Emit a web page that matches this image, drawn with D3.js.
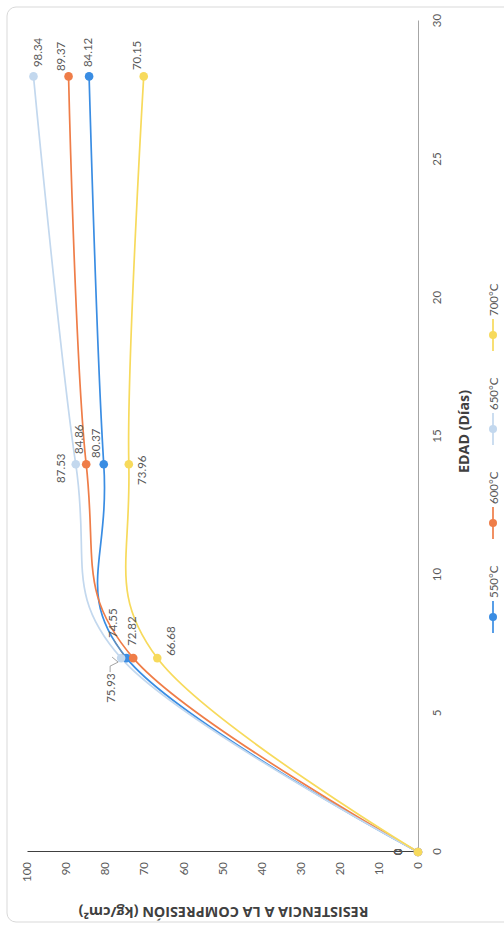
<!DOCTYPE html>
<html><head><meta charset="utf-8">
<script src="https://cdn.jsdelivr.net/npm/d3@7"></script>
<style>html,body{margin:0;padding:0;background:#fff;} svg{display:block;}</style>
</head><body>
<script>
// ---- data ----
const days = [0, 7, 14, 28];
const s550 = [0, 74.55, 80.37, 84.12];
const s600 = [0, 72.82, 84.86, 89.37];
const s650 = [0, 75.93, 87.53, 98.34];
const s700 = [0, 66.68, 73.96, 70.15];
const seriesNames = ["550°C", "600°C", "650°C", "700°C"];
const xTickValues = [0, 5, 10, 15, 20, 25, 30];
const yTickValues = [0, 10, 20, 30, 40, 50, 60, 70, 80, 90, 100];
const xTitle = "EDAD (Días)";
const yTitle = "RESISTENCIA A LA COMPRESIÓN (kg/cm²)";

// ---- styles / layout ----
const colors = ["#3a8de3", "#ef7d48", "#c3d8ee", "#f7da5c"];
const font = "Lato, 'Open Sans', sans-serif";
const titleFont = "'Open Sans', Lato, sans-serif";
// label offsets (in the unrotated chart frame), per series per point
const labelOffsets = [
  [[0,-21],[35,-14],[21,-8],[24,-2]],
  [[0,-21],[27,-2],[25,-8],[20,-8]],
  [[0,-21],[-30,-11],[-4,-15],[24,4]],
  [[0,-21],[17,13],[-6,13],[21,-7]]
];

const seriesValues = [s550, s600, s650, s700];
const series = seriesNames.map((n, i) => ({
  name: n, color: colors[i],
  pts: days.map((d, j) => ({x: d, y: seriesValues[i][j], off: labelOffsets[i][j]}))
}));

const svg = d3.select("body").append("svg").attr("width", 504).attr("height", 925);
// whole chart is rotated -90deg: chart frame is 925 wide x 504 tall
const g = svg.append("g").attr("transform", "translate(0,925) rotate(-90)");

// border
g.append("rect").attr("x", 3).attr("y", 7).attr("width", 915).attr("height", 520)
  .attr("rx", 9).attr("fill", "#fff").attr("stroke", "#d9d9d9").attr("stroke-width", 1);

const x = d3.scaleLinear().domain([0, 30]).range([73, 904]);
const y = d3.scaleLinear().domain([0, 100]).range([418, 27]);

// x axis (days)
const xa = g.append("g").attr("transform", `translate(0,${y(0)})`)
  .call(d3.axisBottom(x).tickValues(xTickValues).tickSize(0).tickSizeOuter(0).tickPadding(15));
xa.select(".domain").attr("stroke", "#a6a6a6").attr("stroke-width", 1);
xa.selectAll("text").attr("font-family", font).attr("font-size", 11.5).attr("fill", "#595959");

// y axis (values)
const ya = g.append("g").attr("transform", `translate(${x(0)},0)`)
  .call(d3.axisLeft(y).tickValues(yTickValues).tickSize(0).tickSizeOuter(0).tickPadding(10));
ya.select(".domain").attr("stroke", "#404040").attr("stroke-width", 1.2);
ya.selectAll("text").attr("font-family", font).attr("font-size", 11.5).attr("fill", "#595959");

// titles (font size fitted to the reference's text extent)
function fit(sel, target) {
  const len = sel.node().getComputedTextLength();
  const fs = +sel.attr("font-size");
  if (len > 0) sel.attr("font-size", (fs * target / len).toFixed(2));
}
const yt = g.append("text").attr("transform", `translate(13,${(y(0)+y(100))/2 + 1}) rotate(-90)`)
  .attr("text-anchor", "middle").attr("dominant-baseline", "central")
  .attr("font-family", titleFont).attr("font-size", 13).attr("font-weight", "bold").attr("fill", "#404040")
  .text(yTitle);
fit(yt, 290);
const xt = g.append("text").attr("x", (x(0)+x(30))/2 + 5).attr("y", 463)
  .attr("text-anchor", "middle").attr("dominant-baseline", "central")
  .attr("font-family", titleFont).attr("font-size", 14).attr("font-weight", "bold").attr("fill", "#404040")
  .text(xTitle);
fit(xt, 83);

// lines
const line = d3.line().x(d => x(d.x)).y(d => y(d.y)).curve(d3.curveCardinal.tension(0));
series.forEach(s => {
  g.append("path").datum(s.pts).attr("d", line).attr("fill", "none")
    .attr("stroke", s.color).attr("stroke-width", 1.7);
});
series.forEach(s => {
  g.selectAll(null).data(s.pts).enter().append("circle")
    .attr("cx", d => x(d.x)).attr("cy", d => y(d.y)).attr("r", 4.3).attr("fill", s.color);
});

// leader lines for crowded labels at day 7
const p550 = series[0].pts[1], p650 = series[2].pts[1];
g.append("polyline").attr("points", [[x(p550.x)+19, y(p550.y)-13],[x(p550.x)+3, y(p550.y)-3]].join(" "))
  .attr("fill", "none").attr("stroke", "#8c8c8c").attr("stroke-width", 0.8);
g.append("polyline").attr("points", [[x(p650.x)-14, y(p650.y)-11],[x(p650.x)-8, y(p650.y)-11],[x(p650.x)-4, y(p650.y)-3],[x(p650.x)+1, y(p650.y)-9]].join(" "))
  .attr("fill", "none").attr("stroke", "#8c8c8c").attr("stroke-width", 0.8);

// data labels
series.forEach(s => {
  g.selectAll(null).data(s.pts).enter().append("text")
    .attr("x", d => x(d.x) + d.off[0]).attr("y", d => y(d.y) + d.off[1])
    .attr("text-anchor", "middle").attr("dominant-baseline", "central")
    .attr("font-family", font).attr("font-size", 11.5).attr("fill", "#595959")
    .text(d => d.y === 0 ? "0" : d3.format(".2f")(d.y));
});

// legend
const legendX0 = 308, legendStep = 94, legendY = 493;
series.forEach((s, i) => {
  const cx = legendX0 + i * legendStep;
  g.append("line").attr("x1", cx - 16).attr("x2", cx + 16).attr("y1", legendY).attr("y2", legendY)
    .attr("stroke", s.color).attr("stroke-width", 1.7);
  g.append("circle").attr("cx", cx).attr("cy", legendY).attr("r", 4).attr("fill", s.color);
  g.append("text").attr("x", cx + 19).attr("y", legendY).attr("dominant-baseline", "central")
    .attr("font-family", font).attr("font-size", 11.5).attr("fill", "#595959").text(s.name);
});
</script>
</body></html>
